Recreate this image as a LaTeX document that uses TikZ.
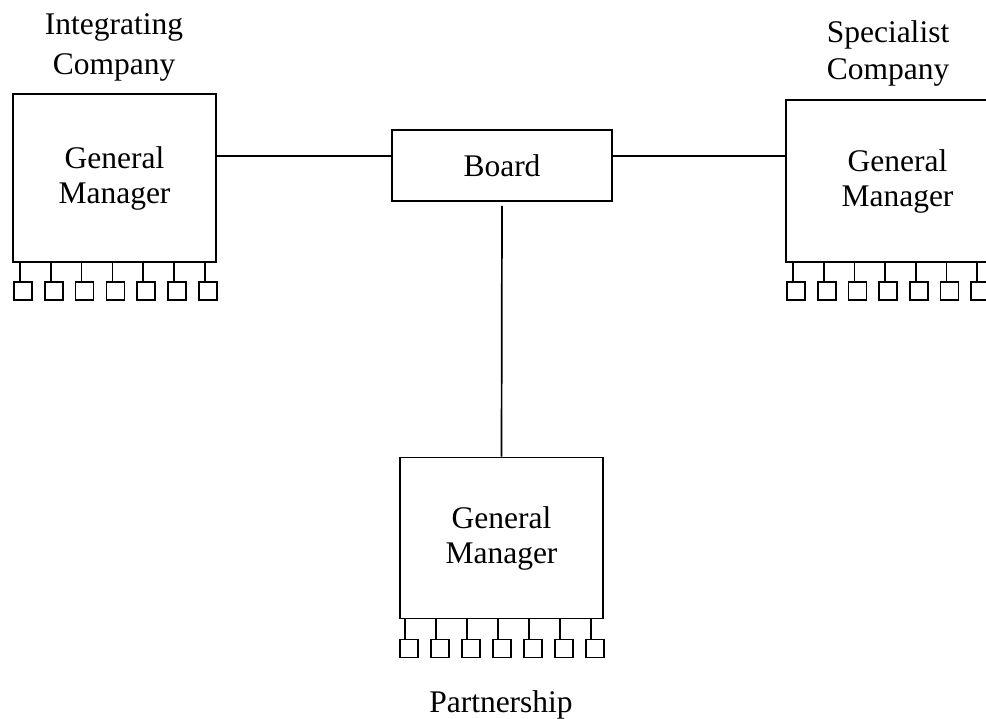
\documentclass[tikz,border=0pt]{standalone}
\usepackage{fontspec}
\setmainfont{Liberation Serif}
\begin{document}
\begin{tikzpicture}[x=1pt,y=-1pt,
  box/.style={draw,line width=1.8pt,inner sep=0pt,align=center,
    font=\fontsize{31.5}{35}\selectfont},
  sub/.style={draw,line width=1.6pt,minimum width=18pt,minimum height=18pt,inner sep=0pt},
  conn/.style={line width=1.7pt},
  lbl/.style={anchor=base,inner sep=0pt,font=\fontsize{31.5}{35}\selectfont}]
\useasboundingbox (0,0) rectangle (986,719);
\clip (0,0) rectangle (986,719);
\fill[white] (0,0) rectangle (986,719);
% titles
\node[lbl] (t1a) at (114,35) {Integrating};
\node[lbl] (t1b) at (114,75) {Company};
\node[lbl] (t2a) at (888,43) {Specialist};
\node[lbl] (t2b) at (888,80) {Company};
\node[lbl] (t3) at (501,712) {Partnership};
% main boxes
\node[box,minimum width=203pt,minimum height=168pt] (lgm) at (114.5,178) {General\\Manager};
\node[box,minimum width=223pt,minimum height=162pt] (rgm) at (897.5,181) {General\\Manager};
\node[box,minimum width=203pt,minimum height=161pt] (pgm) at (501.5,538) {General\\Manager};
\node[box,minimum width=220pt,minimum height=71pt] (board) at (502,165.5) {Board};
% connectors
\draw[conn] (lgm.east |- 0,156) -- (board.west |- 0,156);
\draw[conn] (board.east |- 0,156) -- (rgm.west |- 0,156);
\draw[conn] ([yshift=-4pt]board.south) -- (pgm.north);
% sub units
\foreach \i in {0,...,6}{
  \node[sub] (l\i) at (23+30.8*\i,291) {};
  \draw[conn] ([xshift=-3pt]l\i.north) -- ([xshift=-3pt]l\i.north |- lgm.south);
  \node[sub] (r\i) at (796+30.7*\i,291) {};
  \draw[conn] ([xshift=-3pt]r\i.north) -- ([xshift=-3pt]r\i.north |- rgm.south);
  \node[sub] (p\i) at (409+31*\i,648.5) {};
  \draw[conn] ([xshift=-4pt]p\i.north) -- ([xshift=-4pt]p\i.north |- pgm.south);
}
\end{tikzpicture}
\end{document}
